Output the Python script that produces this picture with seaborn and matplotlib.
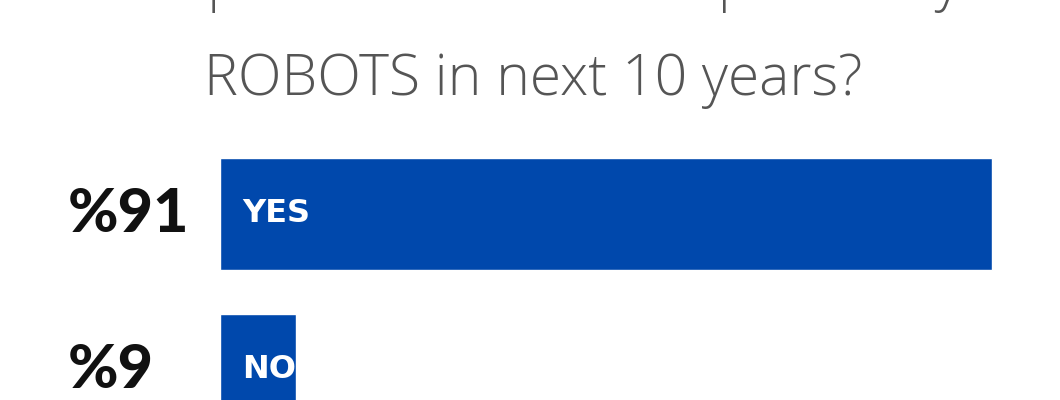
import matplotlib
matplotlib.use("Agg")
import matplotlib.pyplot as plt
import matplotlib.transforms as mtransforms
import pandas as pd
import seaborn as sns

# survey answers
answers = ["YES", "NO"]
shares = [91, 9]
title_lines = ["Are professions to be replaced by", "ROBOTS in next 10 years?"]

bar_color = "#0048AC"
title_color = "#555555"

sns.set_theme(style="white")
plt.rcParams["font.family"] = ["Open Sans", "DejaVu Sans"]

df = pd.DataFrame({"answer": answers, "share": shares})

fig = plt.figure(figsize=(10.6, 4), dpi=100)
ax = fig.add_axes([220 / 1060, 0, 840 / 1060, 1])

sns.barplot(data=df, x="share", y="answer", orient="h", color=bar_color,
            width=0.72, saturation=1, ax=ax)

ax.set_xlim(0, 91 * 840 / 772)
ax.set_ylim(186 / 156, -214 / 156)
ax.axis("off")

# labels: percentage on the left, answer inside the bar
trans = mtransforms.blended_transform_factory(fig.transFigure, ax.transData)
for i, (a, s) in enumerate(zip(answers, shares)):
    ax.text(68 / 1060, i, f"%{s}", transform=trans, ha="left", va="center",
            fontsize=44, fontweight="black", color="#111111", family="Lato")
    ax.text(242 / 1060, i, a, transform=trans, ha="left", va="center",
            fontsize=23, fontweight="bold", color="white", family="DejaVu Sans")

# first title line is cut by the top edge, as in the original graphic
fig.text(0.503, 1 + 1 / 400, title_lines[0], ha="center", va="baseline",
         fontsize=41, fontweight="light", color=title_color)
fig.text(0.503, 1 - 95 / 400, title_lines[1], ha="center", va="baseline",
         fontsize=41, fontweight="light", color=title_color)

fig.savefig("out.png", dpi=100, facecolor="white")
